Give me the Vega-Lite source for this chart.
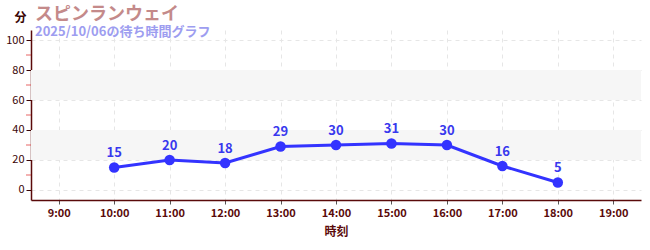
{
  "$schema": "https://vega.github.io/schema/vega-lite/v6.json",
  "width": 610,
  "height": 170,
  "autosize": "none",
  "padding": {"left": 31, "top": 30, "right": 9, "bottom": 50},
  "background": "white",
  "config": {
    "font": "Noto Sans CJK JP",
    "view": {"stroke": null},
    "axis": {"labelOverlap": false, "grid": true, "gridColor": "#e6e6e6", "gridDash": [4, 4], "domainColor": "#5a0a0a", "domainWidth": 1.5},
    "axisY": {"labelOverlap": false}
  },
  "title": {
    "text": "スピンランウェイ",
    "subtitle": "2025/10/06の待ち時間グラフ",
    "anchor": "start",
    "frame": "group",
    "dx": 4,
    "dy": 28,
    "offset": 0,
    "fontSize": 18,
    "fontWeight": "bold",
    "color": "#c48a8a",
    "subtitleFontSize": 13,
    "subtitleFontWeight": "bold",
    "subtitleColor": "#9d9df0",
    "subtitlePadding": 2
  },
  "datasets": {
    "waits": [
      {"hour": 10, "wait": 15},
      {"hour": 11, "wait": 20},
      {"hour": 12, "wait": 18},
      {"hour": 13, "wait": 29},
      {"hour": 14, "wait": 30},
      {"hour": 15, "wait": 31},
      {"hour": 16, "wait": 30},
      {"hour": 17, "wait": 16},
      {"hour": 18, "wait": 5}
    ],
    "bands": [
      {"lo": 20, "hi": 40},
      {"lo": 60, "hi": 80}
    ],
    "minor": [
      {"v": 10}, {"v": 30}, {"v": 50}, {"v": 70}, {"v": 90}
    ]
  },
  "encoding": {
    "y": {
      "field": "wait", "type": "quantitative",
      "scale": {"domain": [-6.67, 106.67], "nice": false, "zero": false},
      "axis": {
        "values": [0, 20, 40, 60, 80, 100],
        "labelOverlap": false,
        "title": "分",
        "titleAngle": 0,
        "titleX": -11,
        "titleY": -13,
        "titleAlign": "center",
        "titleBaseline": "middle",
        "titleFontSize": 12,
        "titleFontWeight": "bold",
        "titleColor": "#3a0505",
        "labelFontSize": 11,
        "labelColor": "#3a0505",
        "labelPadding": 2,
        "tickColor": "#3a0505",
        "tickSize": 5
      }
    }
  },
  "layer": [
    {
      "data": {"name": "bands"},
      "mark": {"type": "rect", "color": "#f6f6f6"},
      "encoding": {
        "y": {"field": "lo", "type": "quantitative"},
        "y2": {"field": "hi"}
      }
    },
    {
      "data": {"name": "minor"},
      "mark": {"type": "tick", "color": "#dd2222", "orient": "horizontal", "size": 5, "thickness": 1, "xOffset": -2.5},
      "encoding": {
        "x": {"datum": 8.5, "type": "quantitative"},
        "y": {"field": "v", "type": "quantitative"}
      }
    },
    {
      "data": {"name": "waits"},
      "mark": {"type": "line", "color": "#3333ff", "strokeWidth": 3},
      "encoding": {
        "x": {
          "field": "hour", "type": "quantitative",
          "scale": {"domain": [8.5, 19.5], "nice": false, "zero": false},
          "axis": {
            "values": [9, 10, 11, 12, 13, 14, 15, 16, 17, 18, 19],
            "labelExpr": "datum.value + ':00'",
            "labelOverlap": false,
            "title": "時刻",
            "titleFontSize": 12,
            "titleFontWeight": "bold",
            "titleColor": "#5a0a0a",
            "titlePadding": 8,
            "labelFontSize": 11,
            "labelFontWeight": "bold",
            "labelColor": "#5a0a0a",
            "labelPadding": 3,
            "tickColor": "#555555",
            "tickSize": 4
          }
        }
      }
    },
    {
      "data": {"name": "waits"},
      "mark": {"type": "circle", "color": "#3333ff", "size": 110, "opacity": 1},
      "encoding": {
        "x": {"field": "hour", "type": "quantitative"}
      }
    },
    {
      "data": {"name": "waits"},
      "mark": {"type": "text", "color": "#3838ee", "fontSize": 13, "fontWeight": "bold", "dy": -10, "baseline": "alphabetic"},
      "encoding": {
        "x": {"field": "hour", "type": "quantitative"},
        "text": {"field": "wait", "type": "quantitative"}
      }
    },
    {
      "data": {"values": [{"site": "yuuenchi.net"}]},
      "mark": {"type": "text", "color": "#888888", "fontSize": 16, "fontWeight": 500, "font": "Noto Sans", "align": "right", "baseline": "middle", "dy": 35},
      "encoding": {
        "x": {"datum": 19.4, "type": "quantitative"},
        "y": {"datum": -6.67, "type": "quantitative"},
        "text": {"field": "site"}
      }
    }
  ]
}
